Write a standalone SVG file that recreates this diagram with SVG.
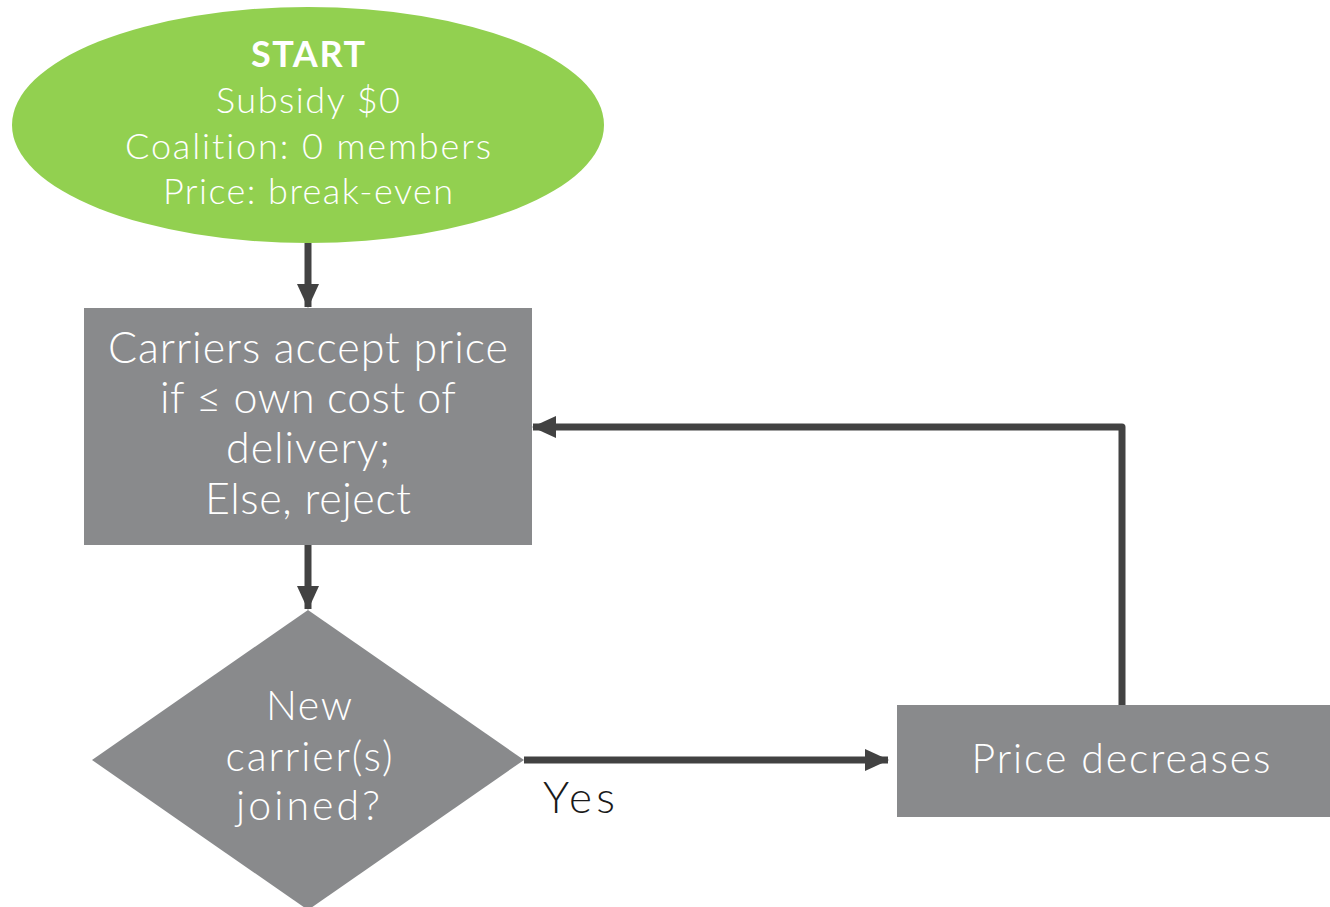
<svg xmlns="http://www.w3.org/2000/svg" width="1330" height="907" viewBox="0 0 1330 907">
<defs>
<style>
.t{font-family:Lato,"Open Sans","Liberation Sans",sans-serif;font-weight:300;fill:#fff;text-anchor:middle;font-variant-ligatures:none}
.c{stroke:#424242;stroke-width:7;fill:none}
.box{fill:#898A8C}
</style>
<marker id="ah" markerUnits="userSpaceOnUse" markerWidth="24" markerHeight="22" refX="23" refY="11" orient="auto">
<path d="M0,0 L24,11 L0,22 Z" fill="#424242"/>
</marker>
</defs>
<rect width="1330" height="907" fill="#fff"/>
<g id="connectors">
<line class="c" x1="308" y1="243" x2="308" y2="307" marker-end="url(#ah)"/>
<line class="c" x1="308" y1="545" x2="308" y2="609" marker-end="url(#ah)"/>
<line class="c" x1="524" y1="760" x2="888" y2="760" marker-end="url(#ah)"/>
<polyline class="c" stroke-linejoin="round" points="1122,705 1122,427 533,427" marker-end="url(#ah)"/>
</g>
<g id="start">
<ellipse cx="308" cy="125" rx="296" ry="118" fill="#92D050"/>
<text class="t" x="308" y="67" font-size="36" style="font-weight:700" textLength="114">START</text>
<text class="t" x="308" y="113" font-size="36" textLength="184">Subsidy $0</text>
<text class="t" x="308" y="159" font-size="36" textLength="366">Coalition: 0 members</text>
<text class="t" x="308" y="204" font-size="36" textLength="290">Price: break-even</text>
</g>
<g id="accept">
<rect class="box" x="84" y="308" width="448" height="237"/>
<text class="t" x="308" y="363" font-size="43" textLength="400">Carriers accept price</text>
<text class="t" x="308" y="413" font-size="43" textLength="296">if ≤ own cost of</text>
<text class="t" x="308" y="463" font-size="43" textLength="164">delivery;</text>
<text class="t" x="308" y="514" font-size="43" textLength="206">Else, reject</text>
</g>
<g id="decision">
<polygon class="box" points="308,610 524,760 308,910 92,760"/>
<text class="t" x="309" y="720" font-size="41" textLength="86">New</text>
<text class="t" x="309" y="771" font-size="41" textLength="167">carrier(s)</text>
<text class="t" x="308" y="820" font-size="41" textLength="144">joined?</text>
</g>
<g id="decrease">
<rect class="box" x="897" y="705" width="433" height="112"/>
<text class="t" x="1121" y="773" font-size="41" textLength="299">Price decreases</text>
</g>
<text x="543" y="813" font-size="44" font-family="Lato,'Open Sans','Liberation Sans',sans-serif" font-weight="300" fill="#1a1a1a" textLength="72">Yes</text>
</svg>
